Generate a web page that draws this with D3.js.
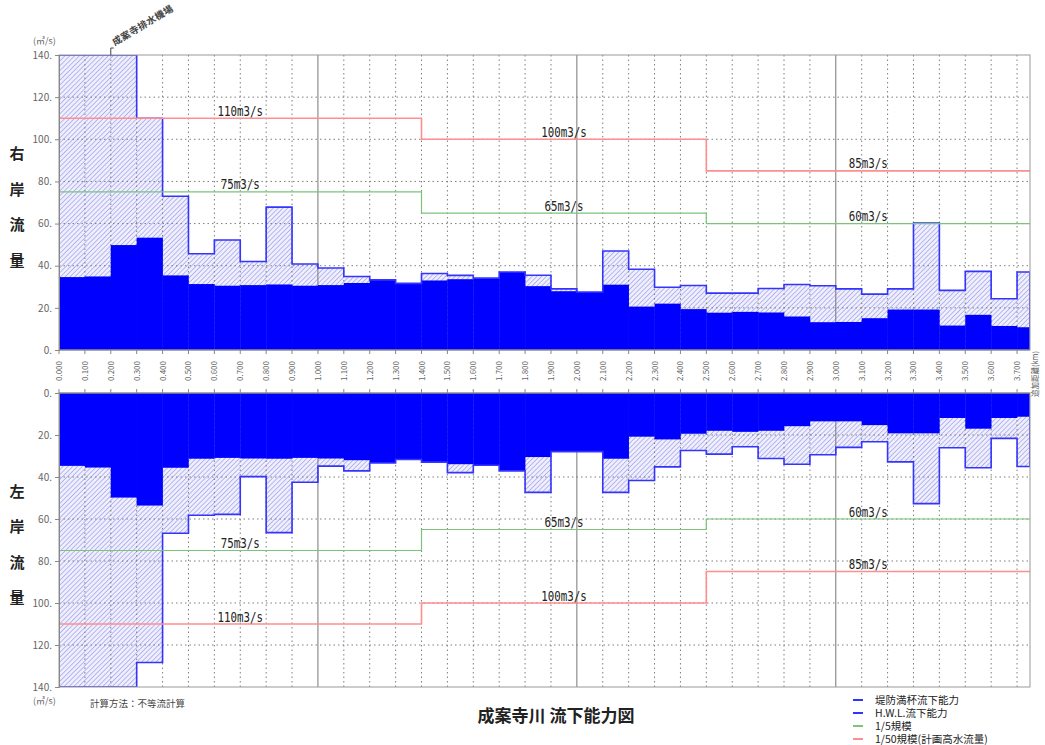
<!DOCTYPE html>
<html>
<head>
<meta charset="utf-8">
<script src="https://cdn.jsdelivr.net/npm/d3@7"></script>
<style>
  body { margin: 0; background: #fff; }
  svg { display: block; }
</style>
</head>
<body>
<svg id="chart" width="1045" height="745"></svg>
<script>
// Stations (km) where each reach starts; the last reach ends at reachEnd
const stations = ["0.000","0.100","0.200","0.300","0.400","0.500","0.600","0.700","0.800","0.900",
  "1.000","1.100","1.200","1.300","1.400","1.500","1.600","1.700","1.800","1.900",
  "2.000","2.100","2.200","2.300","2.400","2.500","2.600","2.700","2.800","2.900",
  "3.000","3.100","3.200","3.300","3.400","3.500","3.600","3.700"];
const reachEnd = 3.75;

// Right bank capacity (m3/s)
const rightLevee = [140,140,140,110,73,45.7,52.2,42,67.8,40.8,38.9,34.9,33.3,31.6,36.3,35.4,34.1,37,35.5,29,
  27.5,47,38.3,29.8,30.6,27,27,29.2,31.1,30.5,29,26.5,29,60.2,28.3,37.3,24.3,37];
const rightHWL = [34.6,34.9,49.8,53.3,35.4,31.3,30.5,30.8,31.1,30.5,30.8,31.8,33.3,31.6,33,33.6,34.1,37,30.3,27.9,
  27.5,31,20.6,22,19.4,17.7,18.1,17.8,15.9,13.2,13.3,15.1,19.2,19.2,11.6,16.7,11.4,10.8];

// Left bank capacity (m3/s)
const leftLevee = [140,140,140,128.3,66.8,58.2,57.8,39.8,66.5,42.5,34.8,37.1,33.3,31.7,32.9,37.9,34.4,37.1,47.3,27.9,
  27.9,47.3,41.7,35.2,27.4,29.1,25.6,31.2,33.9,29.4,25.9,23.2,32.8,52.7,26.1,35.6,21.6,35];
const leftHWL = [34.7,35.5,49.8,53.6,35.6,31.3,30.9,31.2,31.3,30.9,31.2,32,33.3,31.7,32.9,33.9,34.4,37.1,30.5,27.9,
  27.9,31.3,20.8,22.1,19.4,18,18.5,18,15.8,13.5,13.5,15.3,19.2,19.2,11.9,17,11.9,11.3];

// Design discharge sections
const sectionBreaks = [0, 1.4, 2.5, 3.75];
const plan50 = [110, 100, 85];   // 1/50 scale (planned high water discharge)
const plan5 = [75, 65, 60];      // 1/5 scale

const yTicks = [0, 20, 40, 60, 80, 100, 120, 140];
const legendItems = [
  { label: "堤防満杯流下能力", color: "#3333ff" },
  { label: "H.W.L.流下能力", color: "#3333ff" },
  { label: "1/5規模", color: "#7cc47c" },
  { label: "1/50規模(計画高水流量)", color: "#ff8f8f" }
];

const svg = d3.select("#chart");
const W = 1045, H = 745;
svg.append("rect").attr("width", W).attr("height", H).attr("fill", "#fff");

const x = d3.scaleLinear().domain([0, reachEnd]).range([59, 1030]);
const yTop = d3.scaleLinear().domain([0, 140]).range([350, 55]);
const yBot = d3.scaleLinear().domain([0, 140]).range([393, 687]);

const GRID = "#7e7e7e";
const defs = svg.append("defs");
const hs = 3.4;
const pat = defs.append("pattern").attr("id", "hatch")
  .attr("patternUnits", "userSpaceOnUse").attr("width", hs).attr("height", hs)
  .attr("patternTransform", "rotate(45)");
pat.append("rect").attr("width", hs).attr("height", hs).attr("fill", "#eeeefc");
pat.append("line").attr("x1", 0).attr("y1", 0).attr("x2", 0).attr("y2", hs)
  .attr("stroke", "#9a9aec").attr("stroke-width", 1.3);

const segs = (levee, hwl) => stations.map((s, i) => ({
  x0: +s,
  x1: i < stations.length - 1 ? +stations[i + 1] : reachEnd,
  levee: levee[i], hwl: hwl[i]
}));

function drawPanel(y, levee, hwl, id) {
  const data = segs(levee, hwl);
  const [r0, r1] = y.range();
  const top = Math.min(r0, r1), bottom = Math.max(r0, r1);
  const g = svg.append("g");
  defs.append("clipPath").attr("id", "clip" + id).append("rect")
    .attr("x", x(0)).attr("y", top).attr("width", x(reachEnd) - x(0)).attr("height", bottom - top);
  const plot = g.append("g").attr("clip-path", `url(#clip${id})`);

  // levee-full capacity (hatched)
  plot.selectAll("rect.levee").data(data).join("rect").attr("class", "levee")
    .attr("x", d => x(d.x0)).attr("width", d => x(d.x1) - x(d.x0) + 0.3)
    .attr("y", d => Math.min(y(0), y(d.levee)))
    .attr("height", d => Math.abs(y(d.levee) - y(0)))
    .attr("fill", "url(#hatch)");

  // grid
  const gridY = yTicks.filter(v => v > 0 && v < 140);
  plot.selectAll("line.gy").data(gridY).join("line").attr("class", "gy")
    .attr("x1", x(0)).attr("x2", x(reachEnd)).attr("y1", d => y(d)).attr("y2", d => y(d))
    .attr("stroke", GRID).attr("stroke-width", 1).attr("stroke-dasharray", "1.5,3");
  const gridX = stations.map(Number).filter(v => v > 0);
  plot.selectAll("line.gx").data(gridX).join("line").attr("class", "gx")
    .attr("x1", d => x(d)).attr("x2", d => x(d)).attr("y1", top).attr("y2", bottom)
    .attr("stroke", d => Math.abs(d - Math.round(d)) < 1e-6 ? "#777" : GRID)
    .attr("stroke-width", 1)
    .attr("stroke-dasharray", d => Math.abs(d - Math.round(d)) < 1e-6 ? null : "1.5,3");

  // H.W.L. capacity (solid)
  plot.selectAll("rect.hwl").data(data).join("rect").attr("class", "hwl")
    .attr("x", d => x(d.x0)).attr("width", d => x(d.x1) - x(d.x0) + 0.3)
    .attr("y", d => Math.min(y(0), y(d.hwl)))
    .attr("height", d => Math.abs(y(d.hwl) - y(0)))
    .attr("fill", "#0000ff");

  // levee-full outline
  const pts = [[0, 0]].concat(data.map(d => [d.x0, d.levee]),
    [[reachEnd, data[data.length - 1].levee], [reachEnd, 0]]);
  const step = d3.line().x(d => x(d[0])).y(d => y(d[1])).curve(d3.curveStepAfter);
  plot.append("path").attr("d", step(pts)).attr("fill", "none")
    .attr("stroke", "#3434ff").attr("stroke-width", 1.6);

  // design discharge lines
  const planPts = arr => arr.map((v, i) => [sectionBreaks[i], v]).concat([[reachEnd, arr[arr.length - 1]]]);
  plot.append("path").attr("d", step(planPts(plan5))).attr("fill", "none")
    .attr("stroke", "#7cc47c").attr("stroke-width", 1.2);
  plot.append("path").attr("d", step(planPts(plan50))).attr("fill", "none")
    .attr("stroke", "#ff8f8f").attr("stroke-width", 1.6);

  // design discharge labels
  const labels = [];
  plan50.forEach((v, i) => labels.push({ v, k: (sectionBreaks[i] + sectionBreaks[i + 1]) / 2 }));
  plan5.forEach((v, i) => labels.push({ v, k: (sectionBreaks[i] + sectionBreaks[i + 1]) / 2 }));
  g.selectAll("text.ql").data(labels).join("text").attr("class", "ql")
    .attr("x", d => x(d.k)).attr("y", d => y(d.v) - 2.5)
    .attr("text-anchor", "middle")
    .attr("font-family", "'DejaVu Sans Mono', monospace").attr("font-size", 13.5)
    .attr("textLength", d => (String(d.v).length + 4) * 6.5).attr("lengthAdjust", "spacingAndGlyphs")
    .attr("fill", "#222").text(d => d.v + "m3/s");

  // frame
  g.append("rect").attr("x", x(0)).attr("y", top).attr("width", x(reachEnd) - x(0)).attr("height", bottom - top)
    .attr("fill", "none").attr("stroke", "#999").attr("stroke-width", 1);

  // left axis
  const axis = d3.axisLeft(y).tickValues(yTicks).tickFormat(d => d + ".").tickSize(4).tickPadding(3);
  const ax = g.append("g").attr("transform", `translate(${x(0)},0)`).call(axis);
  ax.select(".domain").attr("stroke", "#888");
  ax.selectAll(".tick line").attr("stroke", "#888");
  ax.selectAll(".tick text").attr("fill", "#666").attr("font-size", 10)
    .attr("font-family", "'Noto Sans CJK JP', sans-serif");

  // station ticks on the inner edge
  const inner = y(0);
  const dir = r0 > r1 ? 1 : -1;
  g.selectAll("line.st").data(stations).join("line").attr("class", "st")
    .attr("x1", d => x(+d)).attr("x2", d => x(+d))
    .attr("y1", inner).attr("y2", inner + dir * 4)
    .attr("stroke", "#888");
  g.append("line").attr("x1", x(0)).attr("x2", x(reachEnd)).attr("y1", inner).attr("y2", inner)
    .attr("stroke", "#888");
}

drawPanel(yTop, rightLevee, rightHWL, "R");
drawPanel(yBot, leftLevee, leftHWL, "L");

// station labels between the panels
svg.append("g").selectAll("text").data(stations).join("text")
  .attr("transform", d => `translate(${x(+d) + 3},371) rotate(-90)`)
  .attr("text-anchor", "middle")
  .attr("font-family", "'Noto Sans CJK JP', sans-serif").attr("font-size", 8)
  .attr("fill", "#666").text(d => d);
svg.append("text").attr("transform", "translate(1038,374) rotate(-90)")
  .attr("text-anchor", "middle").attr("font-family", "'Noto Sans CJK JP', sans-serif")
  .attr("font-size", 7.5).attr("fill", "#555").text("追加距離(km)");

// unit labels
const unitFont = "'Noto Sans CJK JP', sans-serif";
svg.append("text").attr("x", 33).attr("y", 44).attr("font-family", unitFont).attr("font-size", 9)
  .attr("fill", "#666").text("(㎥/s)");
svg.append("text").attr("x", 33).attr("y", 704).attr("font-family", unitFont).attr("font-size", 9)
  .attr("fill", "#666").text("(㎥/s)");

// bank titles
const bankLabel = (chars, ys) => chars.forEach((c, i) =>
  svg.append("text").attr("x", 17).attr("y", ys[i]).attr("text-anchor", "middle")
    .attr("font-family", unitFont).attr("font-weight", "bold").attr("font-size", 15)
    .attr("fill", "#222").text(c));
bankLabel(["右", "岸", "流", "量"], [159, 195, 230, 266]);
bankLabel(["左", "岸", "流", "量"], [497, 532, 568, 603]);

// drainage pump station marker
const mk = x(0.2);
svg.append("line").attr("x1", mk).attr("x2", mk).attr("y1", 55).attr("y2", 48)
  .attr("stroke", "#444").attr("stroke-width", 1);
svg.append("line").attr("x1", mk).attr("x2", mk + 3).attr("y1", 48).attr("y2", 48)
  .attr("stroke", "#444").attr("stroke-width", 1);
svg.append("text").attr("transform", `translate(${mk + 4},46) rotate(-31)`)
  .attr("font-family", unitFont).attr("font-size", 9.5).attr("font-weight", "bold")
  .attr("letter-spacing", 0.4)
  .attr("fill", "#444").text("成案寺排水機場");

// method note and title
svg.append("text").attr("x", 90).attr("y", 707).attr("font-family", unitFont).attr("font-size", 9.5)
  .attr("fill", "#444").text("計算方法：不等流計算");
svg.append("text").attr("x", 556).attr("y", 722).attr("text-anchor", "middle")
  .attr("font-family", unitFont).attr("font-size", 17).attr("font-weight", "bold")
  .attr("fill", "#222").text("成案寺川 流下能力図");

// legend
const lg = svg.append("g").selectAll("g").data(legendItems).join("g")
  .attr("transform", (d, i) => `translate(853,${700 + i * 13})`);
lg.append("line").attr("x1", 0).attr("x2", 10).attr("y1", 0).attr("y2", 0)
  .attr("stroke", d => d.color).attr("stroke-width", 2);
lg.append("text").attr("x", 22).attr("y", 4).attr("font-family", unitFont).attr("font-size", 10.5)
  .attr("fill", "#222").text(d => d.label);
</script>
</body>
</html>
